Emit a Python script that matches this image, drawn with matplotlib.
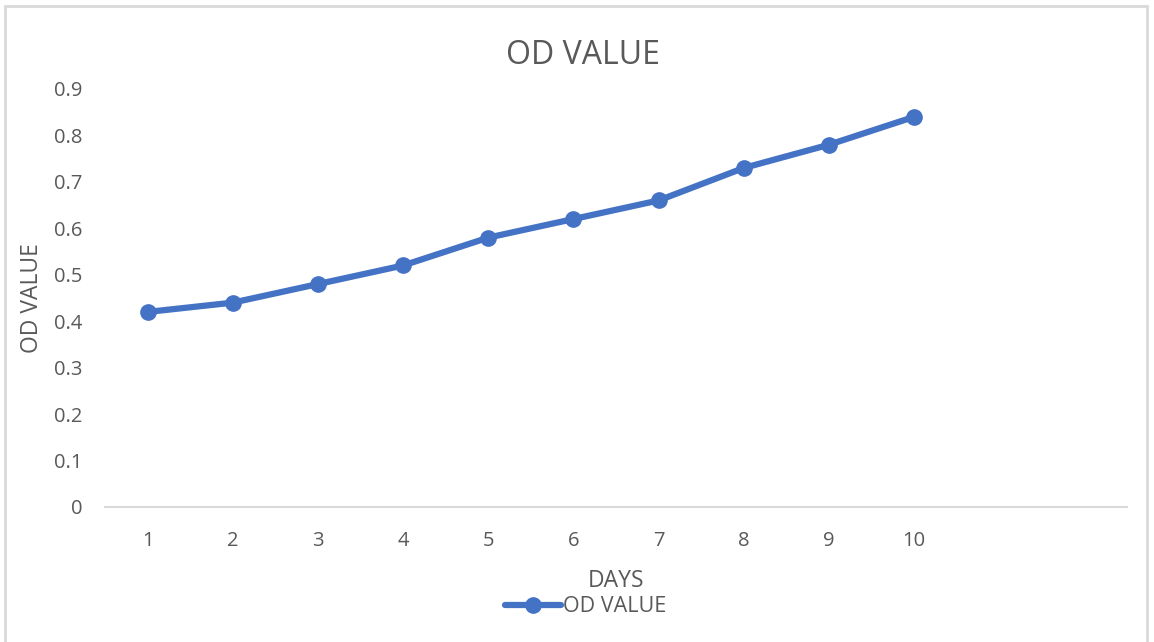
import matplotlib.pyplot as plt
from matplotlib.patches import Rectangle

# data
days = [1, 2, 3, 4, 5, 6, 7, 8, 9, 10]
od_value = [0.42, 0.44, 0.48, 0.52, 0.58, 0.62, 0.66, 0.73, 0.78, 0.84]
y_ticks = [0, 0.1, 0.2, 0.3, 0.4, 0.5, 0.6, 0.7, 0.8, 0.9]

blue = '#4472C4'
grey_text = '#595959'

plt.rcParams['font.family'] = ['Open Sans', 'DejaVu Sans']

W, H = 1154, 642
fig = plt.figure(figsize=(W / 100, H / 100), dpi=100)

# outer chart border
fig.patches.append(Rectangle((5 / W, -0.01), (1147 - 5) / W, 1 - 6 / H + 0.01,
                             transform=fig.transFigure, fill=False,
                             edgecolor='#d9d9d9', linewidth=2))

ax = fig.add_axes([105 / W, 1 - 507 / H, (1127 - 105) / W, (507 - 89) / H])
ax.plot(days, od_value, color=blue, linewidth=4.5, marker='o', markersize=11,
        label='OD VALUE', solid_capstyle='round')

ax.set_xlim(0.5, 12.5)
ax.set_ylim(0, 0.9)
ax.set_xticks(days)
ax.set_xticklabels([str(d) for d in days])
ax.set_yticks(y_ticks)
ax.set_yticklabels(['0' if v == 0 else f'{v:.1f}' for v in y_ticks])
ax.tick_params(length=0, labelsize=14.5, colors=grey_text)
ax.tick_params(axis='x', pad=17)
ax.tick_params(axis='y', pad=16)

for side in ['top', 'right', 'left']:
    ax.spines[side].set_visible(False)
ax.spines['bottom'].set_color('#d9d9d9')
ax.spines['bottom'].set_linewidth(1.5)

fig.text(583 / W, 1 - 55 / H, 'OD VALUE', ha='center', va='center',
         fontsize=23, color=grey_text)
fig.text(616 / W, 1 - 581 / H, 'DAYS', ha='center', va='center',
         fontsize=16.5, color=grey_text)
fig.text(32 / W, 1 - 298 / H, 'OD VALUE', ha='center', va='center',
         rotation=90, fontsize=16.5, color=grey_text)

leg = ax.legend(loc='center', bbox_to_anchor=(586 / W, 1 - 607 / H),
                bbox_transform=fig.transFigure, frameon=False, fontsize=15.5,
                handlelength=2.6, handletextpad=0.1, borderpad=0)
for t in leg.get_texts():
    t.set_color(grey_text)

fig.savefig('out.png', dpi=100)
